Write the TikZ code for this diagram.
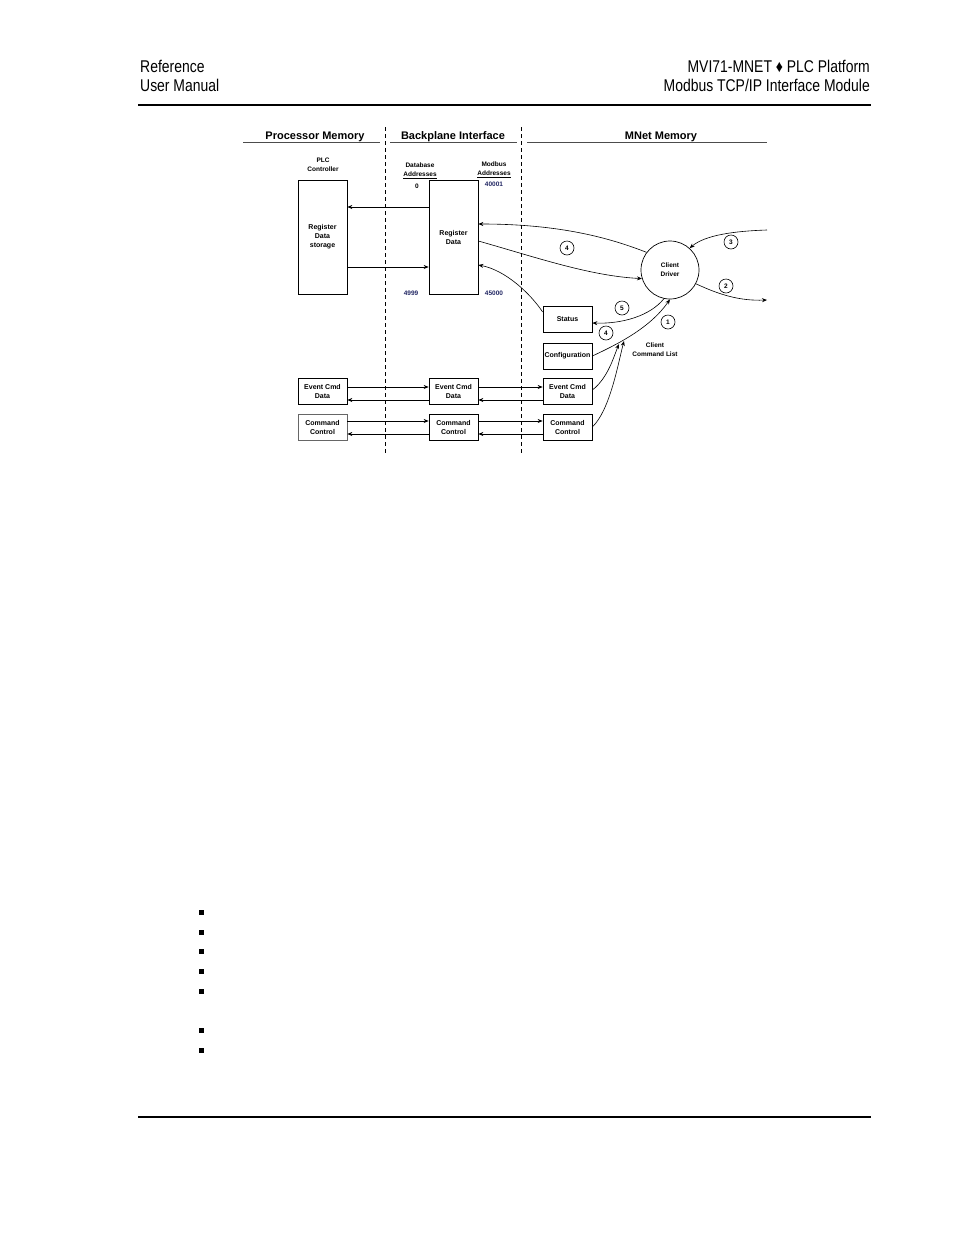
\documentclass[tikz,border=0pt]{standalone}
\usepackage{fontspec}
\setmainfont{Liberation Sans}
\newfontfamily\hdrfont{Liberation Sans}[FakeStretch=0.82]
\usetikzlibrary{arrows.meta,calc,positioning}

\definecolor{addrblue}{RGB}{35,40,100}

\tikzset{
  arr/.style={-{Stealth[length=5pt,width=4pt]}, line width=0.6pt},
  box/.style={draw, line width=0.7pt, minimum width=49pt, minimum height=26pt, inner sep=0pt,
    align=center, font=\fontsize{7}{9}\selectfont\bfseries},
  tallbox/.style={box, minimum height=114pt},
  numc/.style={draw, circle, minimum size=14pt, inner sep=0pt, line width=0.6pt,
    font=\fontsize{6.5}{7}\selectfont\bfseries},
  sect/.style={font=\fontsize{11}{12}\selectfont\bfseries, inner sep=0pt},
  lbl/.style={align=center, font=\fontsize{6.5}{9}\selectfont\bfseries, inner sep=0pt},
  hdr/.style={font=\hdrfont\fontsize{17}{19}\selectfont, inner sep=0pt},
  sep/.style={line width=0.7pt, dash pattern=on 4pt off 3pt},
}

\begin{document}
\begin{tikzpicture}[x=1pt, y=-1pt]
  \useasboundingbox (0,0) rectangle (954,1235);

  %%% page header and footer rules
  \node[hdr, anchor=base west] (hdrref) at (140,72) {Reference};
  \node[hdr, anchor=base west] (hdrman) at (140,91) {User Manual};
  \node[hdr, anchor=base east] (hdrplat) at (870,72) {MVI71-MNET ♦ PLC Platform};
  \node[hdr, anchor=base east] (hdrmod) at (870,91) {Modbus TCP/IP Interface Module};
  \draw[line width=1.2pt] (138,105) -- (871,105);
  \draw[line width=1.2pt] (138,1117) -- (871,1117);

  %%% section titles
  \node[sect] (procmem) at (315,137) {Processor Memory};
  \node[sect] (bpiface) at (453,137) {Backplane Interface};
  \node[sect] (mnetmem) at (661,137) {MNet Memory};
  \draw[black!70, line width=0.6pt] (243,142.5) -- (380,142.5);
  \draw[black!70, line width=0.6pt] (390,142.5) -- (517,142.5);
  \draw[black!70, line width=0.6pt] (527,142.5) -- (767,142.5);
  \draw[sep] (385,127) -- (385,453);
  \draw[sep] (521,127) -- (521,453);

  %%% register data
  \node[tallbox] (plc) at (322.5,237) {Register\\Data\\storage};
  \node[tallbox] (regdata) at (453.5,237) {Register\\Data};
  \node[lbl] (plclbl) at (323,164.5) {PLC\\Controller};
  \node[lbl] (dblbl) at (420,170.5) {Database\\\underline{Addresses}};
  \node[lbl] (mblbl) at (494,169.5) {Modbus\\\underline{Addresses}};
  \node[lbl] (dbfirst) at (417,186) {0};
  \node[lbl, text=addrblue] (dblast) at (411,293) {4999};
  \node[lbl, text=addrblue] (mbfirst) at (494,184) {40001};
  \node[lbl, text=addrblue] (mblast) at (494,293) {45000};
  \draw[arr] ([yshift=30pt]regdata.west) -- ([yshift=30pt]plc.east);
  \draw[arr] ([yshift=-30pt]plc.east) -- ([yshift=-30pt]regdata.west);

  %%% client driver
  \node[draw, circle, minimum size=58pt, line width=0.7pt, lbl] (driver) at (670,270) {Client\\Driver};
  \coordinate (netin) at (767,230);
  \coordinate (netout) at (767,300);
  \draw[arr] (driver.143) .. controls (610,238) and (560,224) .. ([yshift=13pt]regdata.east);
  \draw[arr] ([yshift=-4pt]regdata.east) .. controls (535,257) and (590,276) .. (driver.197);
  \draw[arr] (netin) .. controls (735,231) and (705,235) .. (driver.48);
  \draw[arr] (driver.-28) .. controls (720,295) and (740,301) .. (netout);

  %%% status and configuration
  \node[box] (status) at (567.5,319) {Status};
  \node[box] (config) at (567.5,356) {Configuration};
  \draw[arr] ([yshift=7pt]status.west) .. controls (530,293) and (505,270) .. ([yshift=-28pt]regdata.east);
  \draw[arr] (driver.258) .. controls (650,316) and (622,324) .. ([yshift=-4pt]status.east);
  \draw[arr] (config.east) .. controls (618,344) and (650,328) .. (driver.270);
  \node[numc] (n4a) at (567,248) {4};
  \node[numc] (n3) at (731,242) {3};
  \node[numc] (n2) at (726,286) {2};
  \node[numc] (n5) at (622,308) {5};
  \node[numc] (n4b) at (606,333) {4};
  \node[numc] (n1) at (668,322) {1};
  \node[lbl] (cmdlist) at (655,349.5) {Client\\Command List};

  %%% event commands and command control
  \node[box] (levt) at (322.5,391) {Event Cmd\\Data};
  \node[box, draw=black!60] (lcmd) at (322.5,427) {Command\\Control};
  \node[box] (mevt) at (453.5,391) {Event Cmd\\Data};
  \node[box] (mcmd) at (453.5,427) {Command\\Control};
  \node[box] (revt) at (567.5,391) {Event Cmd\\Data};
  \node[box] (rcmd) at (567.5,427) {Command\\Control};
  \draw[arr] ([yshift=4pt]levt.east) -- ([yshift=4pt]mevt.west);
  \draw[arr] ([yshift=-9pt]mevt.west) -- ([yshift=-9pt]levt.east);
  \draw[arr] ([yshift=6pt]lcmd.east) -- ([yshift=6pt]mcmd.west);
  \draw[arr] ([yshift=-7pt]mcmd.west) -- ([yshift=-7pt]lcmd.east);
  \draw[arr] ([yshift=4pt]mevt.east) -- ([yshift=4pt]revt.west);
  \draw[arr] ([yshift=-9pt]revt.west) -- ([yshift=-9pt]mevt.east);
  \draw[arr] ([yshift=6pt]mcmd.east) -- ([yshift=6pt]rcmd.west);
  \draw[arr] ([yshift=-7pt]rcmd.west) -- ([yshift=-7pt]mcmd.east);
  \coordinate (evtlist) at (619,344);
  \coordinate (cmdlistpt) at (624,341);
  \draw[arr] ([yshift=1pt]revt.east) .. controls (608,378) and (614,356) .. (evtlist);
  \draw[arr] (rcmd.east) .. controls (610,410) and (618,364) .. (cmdlistpt);

  %%% bullets
  \foreach \by in {912,932,951,971,991,1030,1050}
    \fill (198.5,\by-2.5) rectangle (203.5,\by+2.5);
\end{tikzpicture}
\end{document}
